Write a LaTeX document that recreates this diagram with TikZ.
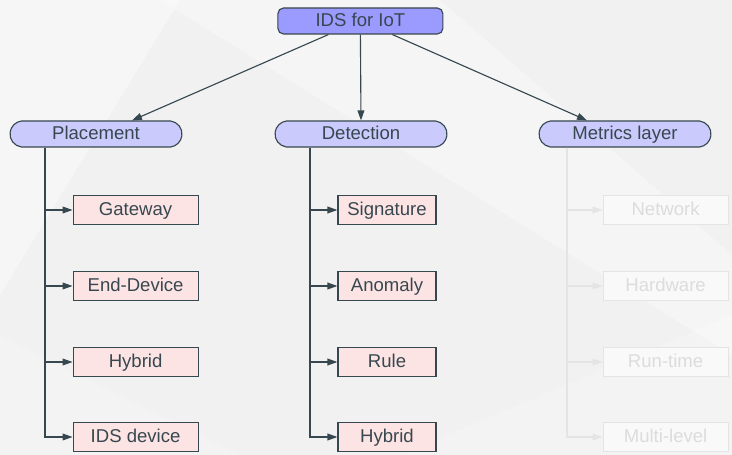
\documentclass[tikz,border=0pt]{standalone}
\usepackage{fontspec}
\setmainfont{Liberation Sans}
\usepackage{tikz}
\usetikzlibrary{shapes.misc,arrows.meta,calc,positioning}
\definecolor{inkgray}{HTML}{37474F}
\definecolor{rootblue}{HTML}{9A9AFF}
\definecolor{layerblue}{HTML}{CACAFC}
\definecolor{leafpink}{HTML}{FDE4E4}
\definecolor{fadeline}{HTML}{E4E4E4}
\definecolor{fadetext}{HTML}{DCDCDC}
\definecolor{bggray}{HTML}{F1F1F1}
\tikzset{
  rootbox/.style={draw=inkgray,fill=rootblue,rounded corners=4pt,minimum width=4.125cm,minimum height=0.65cm,inner sep=0pt},
  layerbox/.style={draw=inkgray,fill=layerblue,rounded rectangle,rounded rectangle arc length=165,minimum width=4.3cm,minimum height=0.65cm,inner sep=0pt},
  leafbox/.style={draw=inkgray,fill=leafpink,minimum height=0.72cm,inner sep=0pt},
  fadebox/.style={draw=fadeline,fill=white!60!bggray,text=fadetext,minimum height=0.72cm,inner sep=0pt},
  arr/.style={-{Triangle[length=2.5mm,width=1.7mm]}},
  midtext/.style={text height=0.72em,text depth=0em},
}
\begin{document}
\begin{tikzpicture}[line width=0.8pt, font=\fontsize{13.2}{15}\selectfont, text=inkgray]
   % background
   \fill[bggray] (0,0) rectangle (18.3,11.375);
   \fill[white,opacity=0.4] (0,11.375) -- (4.5,11.375) -- (0,4) -- cycle;
   \fill[white,opacity=0.3] (4,11.375) -- (11,11.375) -- (18.3,5) -- (18.3,2.5) -- cycle;
   \fill[white,opacity=0.2] (0,3) -- (6,0) -- (0,0) -- cycle;
   \fill[white,opacity=0.2] (10,0) -- (18.3,3.5) -- (18.3,0) -- cycle;
   \useasboundingbox (0,0) rectangle (18.3,11.375);
   % top
   \node (ids) [rootbox,midtext] at (9.01,10.85) {IDS for IoT};
   \begin{scope}[every node/.style={layerbox,midtext}]
    \node (place) at (2.4,8.025) {Placement};
    \node (detect) at (9.025,8.025) {Detection};
    \node (metric) at (15.625,8.025) {Metrics layer};
   \end{scope}
   \begin{scope}[arr,draw=inkgray]
    \draw ([xshift=-0.8cm]ids.south) -- ([xshift=0.9cm]place.north);
    \draw (ids.south) -- (detect.north);
    \draw ([xshift=0.8cm]ids.south) -- ([xshift=-0.95cm]metric.north);
   \end{scope}
   % leaves
   \begin{scope}[every node/.style={leafbox,minimum width=3.125cm,midtext}]
    \node (gate) at (3.39,6.125) {Gateway};
    \node (enddev) at (3.39,4.225) {End-Device};
    \node (hybA) at (3.39,2.325) {Hybrid};
    \node (idsdev) at (3.39,0.45) {IDS device};
   \end{scope}
   \begin{scope}[every node/.style={leafbox,minimum width=2.45cm,midtext}]
    \node (sig) at (9.675,6.125) {Signature};
    \node (anom) at (9.675,4.225) {Anomaly};
    \node (rule) at (9.675,2.325) {Rule};
    \node (hybB) at (9.675,0.45) {Hybrid};
   \end{scope}
   \begin{scope}[every node/.style={fadebox,minimum width=3.125cm,midtext}]
    \node (net) at (16.64,6.125) {Network};
    \node (hard) at (16.64,4.225) {Hardware};
    \node (run) at (16.64,2.325) {Run-time};
    \node (multi) at (16.64,0.45) {Multi-level};
   \end{scope}
   \coordinate (tp) at (place.south -| 1.125,0);
   \coordinate (td) at (detect.south -| 7.75,0);
   \coordinate (tm) at (metric.south -| 14.175,0);
   \begin{scope}[arr,draw=inkgray]
    \draw (tp) |- (gate);
    \draw (tp) |- (enddev);
    \draw (tp) |- (hybA);
    \draw (tp) |- (idsdev);
    \draw (td) |- (sig);
    \draw (td) |- (anom);
    \draw (td) |- (rule);
    \draw (td) |- (hybB);
   \end{scope}
   \begin{scope}[arr,draw=fadeline]
    \draw (tm) |- (net);
    \draw (tm) |- (hard);
    \draw (tm) |- (run);
    \draw (tm) |- (multi);
   \end{scope}
\end{tikzpicture}
\end{document}
